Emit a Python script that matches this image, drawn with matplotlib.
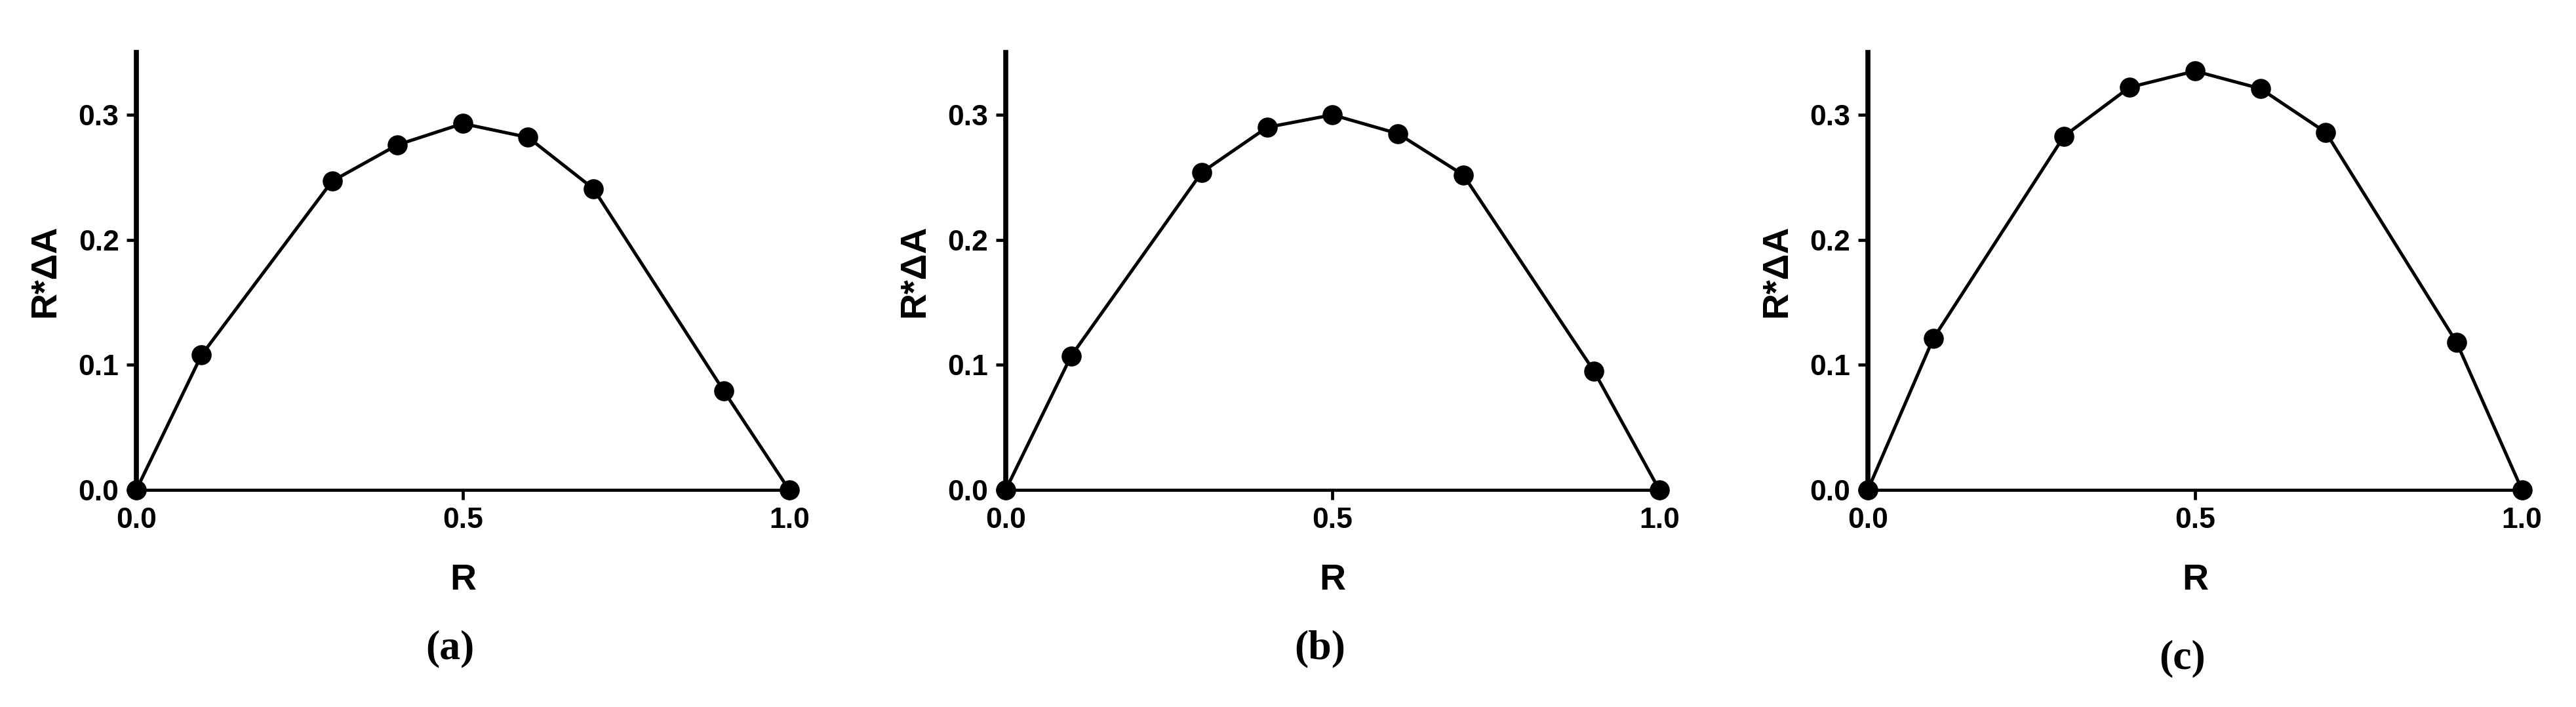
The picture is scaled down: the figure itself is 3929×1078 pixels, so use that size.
import matplotlib.pyplot as plt

plt.rcParams["font.family"] = ["Liberation Sans", "DejaVu Sans"]

R = [0.0, 0.1, 0.3, 0.4, 0.5, 0.6, 0.7, 0.9, 1.0]
values_a = [0.0, 0.108, 0.247, 0.276, 0.293, 0.282, 0.241, 0.079, 0.0]
values_b = [0.0, 0.107, 0.254, 0.290, 0.300, 0.285, 0.252, 0.095, 0.0]
values_c = [0.0, 0.121, 0.283, 0.322, 0.335, 0.321, 0.286, 0.118, 0.0]
panel_names = ["(a)", "(b)", "(c)"]
x_ticks = [0.0, 0.5, 1.0]
y_ticks = [0.0, 0.1, 0.2, 0.3]

TICK_SIZE = 32
LABEL_SIZE = 40
PANEL_SIZE = 46

fig = plt.figure(figsize=(39.3, 10.78), dpi=100)

lefts = [0.0529, 0.3903, 0.7249]
widths = [0.2534, 0.2537, 0.2539]
bottom, height = 0.307, 0.619
panel_y = [0.082, 0.082, 0.068]

for left, width, vals, name, py in zip(
    lefts, widths, [values_a, values_b, values_c], panel_names, panel_y
):
    ax = fig.add_axes([left, bottom, width, height])
    ax.plot(
        R,
        vals,
        color="black",
        linewidth=3.6,
        marker="o",
        markersize=21,
        clip_on=False,
        zorder=5,
    )
    ax.set_xlim(0, 1.0)
    ax.set_ylim(0, 0.35)
    ax.set_xticks(x_ticks)
    ax.set_yticks(y_ticks)
    ax.set_xticklabels([f"{t:.1f}" for t in x_ticks])
    ax.set_yticklabels([f"{t:.1f}" for t in y_ticks])

    for side in ["top", "right"]:
        ax.spines[side].set_visible(False)
    ax.spines["left"].set_linewidth(5.5)
    ax.spines["bottom"].set_linewidth(3.4)

    ax.tick_params(
        axis="both",
        direction="out",
        length=11,
        width=3.4,
        labelsize=TICK_SIZE,
        pad=8,
    )
    for lbl in ax.get_xticklabels() + ax.get_yticklabels():
        lbl.set_fontweight("bold")

    ax.set_xlabel("R", fontsize=LABEL_SIZE, fontweight="bold")
    ax.set_ylabel("R*ΔA", fontsize=LABEL_SIZE, fontweight="bold")
    ax.xaxis.set_label_coords(0.5, -0.207)
    ax.xaxis.label.set_va("center")
    ax.yaxis.set_label_coords(-0.139, 0.5)
    ax.yaxis.label.set_va("center")

    fig.text(
        left + width / 2 - 0.005,
        py,
        name,
        ha="center",
        va="center",
        fontsize=PANEL_SIZE,
        fontweight="bold",
        family=["Liberation Serif", "DejaVu Serif"],
    )

fig.savefig("out.png", dpi=100, facecolor="white")
plt.close(fig)
